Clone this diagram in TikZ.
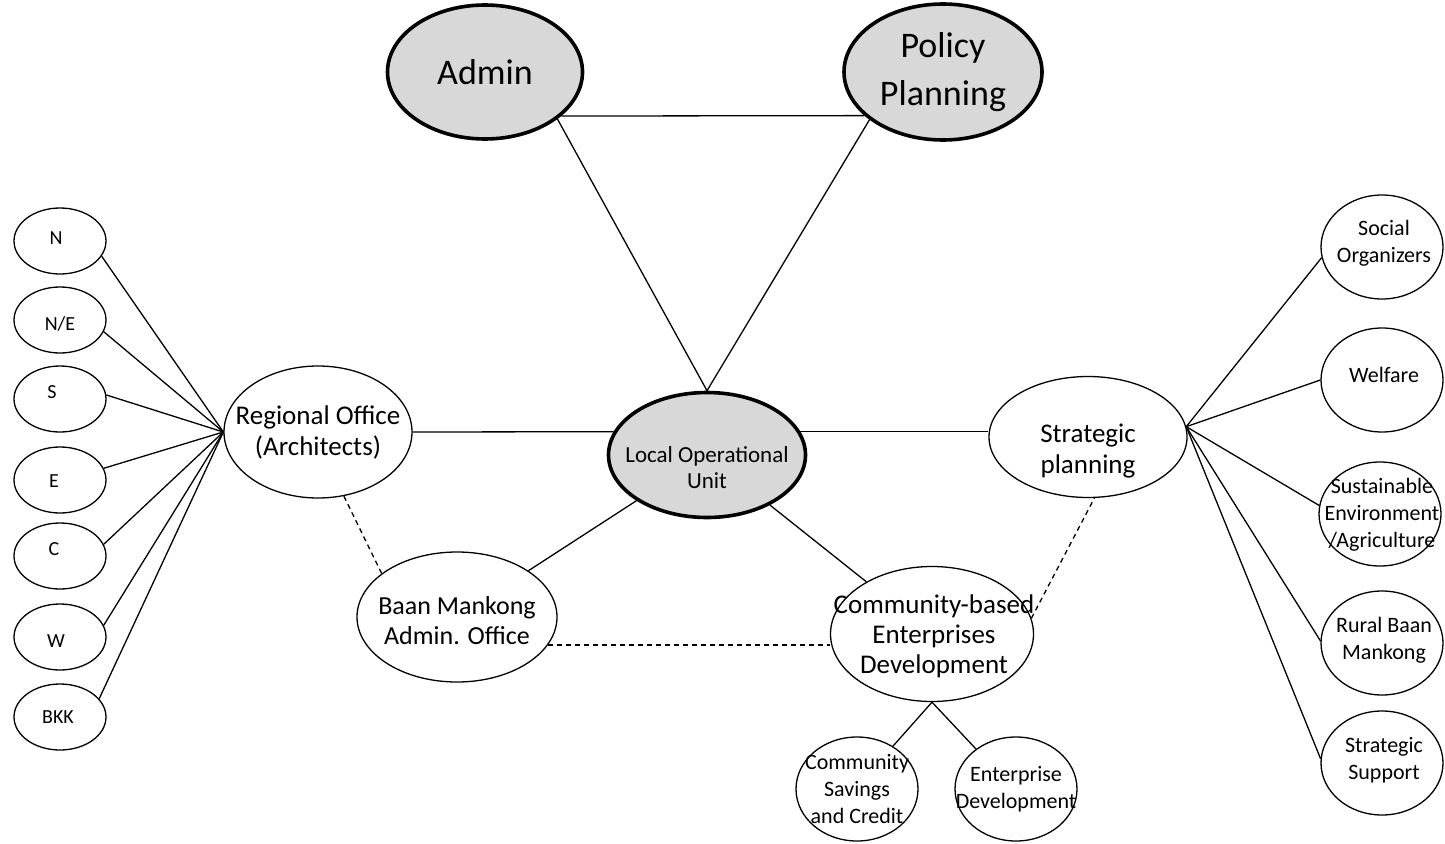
\documentclass[tikz,border=0pt]{standalone}
\usepackage{fontspec}
\setmainfont{Carlito}
\usetikzlibrary{shapes.geometric}
\definecolor{keygray}{RGB}{216,216,216}
\begin{document}
\begin{tikzpicture}[x=1pt,y=-1pt,
  ell/.style={ellipse,draw,line width=1.3pt,inner sep=0pt,fill=white},
  keyell/.style={ell,line width=3.6pt,fill=keygray},
  txt/.style={inner sep=0pt,align=center},
  link/.style={line width=1.3pt},
  dlink/.style={line width=1.3pt,dash pattern=on 5pt off 4pt},
  big/.style={font=\fontsize{36}{48}\selectfont},
  mid/.style={font=\fontsize{27}{31}\selectfont},
  sml/.style={font=\fontsize{22}{27}\selectfont},
  tiny/.style={font=\fontsize{20}{24}\selectfont},
  lft/.style={ell,minimum width=92pt,minimum height=66pt},
  rgt/.style={ell,minimum width=122pt,minimum height=104pt}
]
\useasboundingbox (0,0) rectangle (1445,843);

% key nodes
\node[keyell,minimum width=195pt,minimum height=134pt] (admin) at (485,72) {};
\node[txt,big] (admin-t) at (admin) {Admin};
\node[keyell,minimum width=198pt,minimum height=136pt] (policy) at (943,72) {};
\node[txt,big] (policy-t) at (policy) {Policy\\Planning};
\node[keyell,minimum width=197pt,minimum height=125pt] (lou) at (707,455) {};
\node[txt,font=\fontsize{23}{26}\selectfont] (lou-t) at (707,468) {Local Operational\\Unit};

% second level
\node[ell,minimum width=188pt,minimum height=132pt] (ro) at (318,432) {};
\node[txt,mid] (ro-t) at (ro) {Regional Office\\(Architects)};
\node[ell,minimum width=198pt,minimum height=121pt] (sp) at (1088,437) {};
\node[txt,mid] (sp-t) at (1088,451) {Strategic\\planning};
\node[ell,minimum width=200pt,minimum height=130pt] (bmao) at (457,617) {};
\node[txt,font=\fontsize{26}{30}\selectfont] (bmao-t) at (457,621) {Baan Mankong\\Admin. Office};
\node[ell,minimum width=203pt,minimum height=135pt] (cbed) at (932,634) {};
\node[txt,font=\fontsize{27}{30}\selectfont] (cbed-t) at (934,636) {Community-based\\Enterprises\\Development};

% bottom
\node[ell,minimum width=122pt,minimum height=104pt] (csc) at (857,789) {};
\node[txt,sml] (csc-t) at (csc) {Community\\Savings\\and Credit};
\node[ell,minimum width=122pt,minimum height=104pt] (ed) at (1016,789) {};
\node[txt,sml] (ed-t) at (ed) {Enterprise\\Development};

% left regions
\node[lft] (n)   at (60,241) {};
\node[lft] (ne)  at (60,320) {};
\node[lft] (s)   at (60,399) {};
\node[lft] (e)   at (60,480) {};
\node[lft] (c)   at (60,556) {};
\node[lft] (w)   at (60,637) {};
\node[lft] (bkk) at (60,717) {};
\node[txt,tiny] (n-t)   at (56,238) {N};
\node[txt,tiny] (ne-t)  at (60,324) {N/E};
\node[txt,tiny] (s-t)   at (52,392) {S};
\node[txt,tiny] (e-t)   at (54,481) {E};
\node[txt,tiny] (c-t)   at (54,549) {C};
\node[txt,tiny] (w-t)   at (56,641) {W};
\node[txt,tiny] (bkk-t) at (58,717) {BKK};

% right units
\node[rgt] (so)    at (1382,247) {};
\node[rgt] (wel)   at (1382,380) {};
\node[rgt] (sus)   at (1380,514) {};
\node[rgt] (rural) at (1382,643) {};
\node[rgt] (ss)    at (1382,763) {};
\node[txt,sml] (so-t)    at (1384,243) {Social\\Organizers};
\node[txt,sml] (wel-t)   at (1384,375) {Welfare};
\node[txt,sml] (sus-t)   at (1382,515) {Sustainable\\Environment\\/Agriculture};
\node[txt,sml] (rural-t) at (1384,640) {Rural Baan\\Mankong};
\node[txt,sml] (ss-t)    at (1384,760) {Strategic\\Support};

% connectors
\draw[link] (admin.-30) -- (policy.-151);
\draw[link] (admin.-33) -- (lou.north);
\draw[link] (policy.-147) -- (lou.north);
\draw[link] (ro.east) -- (lou.166);
\draw[link] (lou.14) -- (lou.14 -| sp.west);
\draw[link] (lou) -- (bmao);
\draw[link] (lou) -- (cbed);
\draw[dlink] (ro.-68) -- (bmao.150);
\draw[dlink] (bmao.-17) -- (bmao.-17 -| cbed.west);
\draw[dlink] (cbed.9) -- (sp.-84);
\draw[link] (cbed.south) -- (csc.50);
\draw[link] (cbed.south) -- (ed.135);

\draw[link] (n.-20) -- (ro.west);
\draw[link] (ne.-15) -- (ro.west);
\draw[link] (s.5) -- (ro.west);
\draw[link] (e.15) -- (ro.west);
\draw[link] (c.15) -- (ro.west);
\draw[link] (w.15) -- (ro.west);
\draw[link] (bkk.25) -- (ro.west);

\coordinate (hub) at (sp.6);
\draw[link] (hub) -- (so.190);
\draw[link] (hub) -- (wel.180);
\draw[link] (hub) -- (sus.172);
\draw[link] (hub) -- (rural.178);
\draw[link] (hub) -- (ss.176);
\end{tikzpicture}
\end{document}
